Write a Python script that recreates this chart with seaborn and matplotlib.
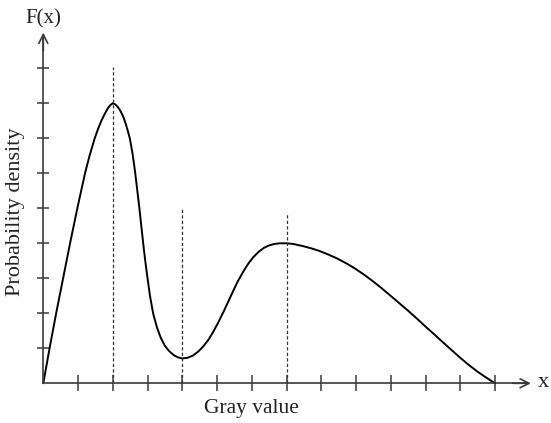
import numpy as np
import pandas as pd
import matplotlib
matplotlib.use("Agg")
import matplotlib.pyplot as plt
import seaborn as sb

# points (x in tick units, y in tick units)
curve_x = [0.0, 0.18, 0.37, 0.57, 0.77, 0.98, 1.09, 1.2, 1.33, 1.48, 1.58,
           1.68, 1.78, 1.86, 1.93, 2.0, 2.07, 2.14, 2.22, 2.3, 2.37, 2.43,
           2.49, 2.57, 2.64, 2.7, 2.76, 2.82, 2.88, 2.94, 3.0, 3.07, 3.16,
           3.27, 3.38, 3.5, 3.62, 3.76, 3.88, 4.0, 4.15, 4.3, 4.45, 4.6, 4.75,
           4.89, 5.03, 5.18, 5.32, 5.47, 5.6, 5.76, 5.9, 6.04, 6.2, 6.35, 6.5,
           6.65, 6.8, 7.0, 7.2, 7.47, 7.7, 7.95, 8.2, 8.47, 8.75, 9.0, 9.25,
           9.48, 9.72, 9.96, 10.22, 10.49, 10.75, 11.0, 11.25, 11.49, 11.75,
           12.02, 12.25, 12.5, 12.75, 13.0]
curve_y = [0.0, 1.0, 2.0, 3.0, 4.0, 5.0, 5.5, 6.0, 6.5, 7.0, 7.28,
           7.52, 7.72, 7.86, 7.95, 8.0, 7.97, 7.9, 7.78, 7.62, 7.42, 7.22,
           7.0, 6.55, 6.05, 5.55, 5.05, 4.5, 3.95, 3.45, 3.0, 2.5, 2.0,
           1.6, 1.3, 1.07, 0.92, 0.8, 0.74, 0.71, 0.73, 0.79, 0.9, 1.05, 1.24,
           1.47, 1.73, 2.03, 2.33, 2.65, 2.92, 3.2, 3.42, 3.6, 3.76, 3.87, 3.94,
           3.98, 4.0, 4.0, 3.98, 3.92, 3.86, 3.78, 3.68, 3.56, 3.41, 3.26, 3.09,
           2.92, 2.73, 2.53, 2.31, 2.08, 1.85, 1.62, 1.4, 1.18, 0.95,
           0.71, 0.52, 0.33, 0.16, 0.0]

guide_x = [2, 4, 7]
guide_top = [9.05, 5.0, 4.86]

x_ticks = list(range(1, 14))
y_ticks = list(range(1, 10))

df = pd.DataFrame({"gray": curve_x, "density": curve_y})

sb.set_theme(style="white")
plt.rcParams["font.family"] = ["Liberation Serif", "DejaVu Serif"]

axis_col = "#3a3a3a"

f0 = plt.figure(figsize=(5.51, 4.23), dpi=100)
a0 = f0.add_axes([0, 0, 1, 1])
a0.set_facecolor("white")

sb.lineplot(data=df, x="gray", y="density", ax=a0, sort=False,
            color="black", linewidth=1.4)
a0.lines[-1].set_solid_joinstyle("round")

a0.vlines(guide_x, 0, guide_top, colors="#333333", linewidth=0.9,
          linestyles=(0, (2.6, 1.8)))

a0.set_xlim(-1.246, 14.61)
a0.set_ylim(-1.134, 10.951)

for s in ["top", "right"]:
    a0.spines[s].set_visible(False)
a0.spines["left"].set_position(("data", 0))
a0.spines["bottom"].set_position(("data", 0))
a0.spines["left"].set_bounds(0, 9.9)
a0.spines["bottom"].set_bounds(0, 13.9)
for s in ["left", "bottom"]:
    a0.spines[s].set_color(axis_col)
    a0.spines[s].set_linewidth(1.2)

a0.set_xticks(x_ticks)
a0.set_yticks(y_ticks)
a0.set_xticklabels([])
a0.set_yticklabels([])
a0.tick_params(axis="x", direction="inout", length=11, width=1.1,
               color=axis_col, bottom=True)
a0.tick_params(axis="y", direction="inout", length=9, width=1.1,
               color=axis_col, left=True)
a0.grid(False)

# arrow heads at the axis ends
arrow = dict(arrowstyle="->", color=axis_col, lw=1.2,
             shrinkA=0, shrinkB=0, mutation_scale=16)
a0.annotate("", xy=(14.03, 0), xytext=(13.5, 0), arrowprops=arrow)
a0.annotate("", xy=(0, 10.02), xytext=(0, 9.5), arrowprops=arrow)

a0.set_xlabel("")
a0.set_ylabel("")
a0.text(0, 10.4, "F(x)", fontsize=15, ha="center", va="center",
        color="#222222")
a0.text(14.4, 0.03, "x", fontsize=16, ha="center", va="center",
        color="#222222")
a0.text(6.0, -0.73, "Gray value", fontsize=15.5, ha="center", va="center",
        color="#222222")
a0.text(-0.8, 4.9, "Probability density", fontsize=16, ha="center",
        va="center", rotation=90, color="#222222")

f0.savefig("out.png", dpi=100)
